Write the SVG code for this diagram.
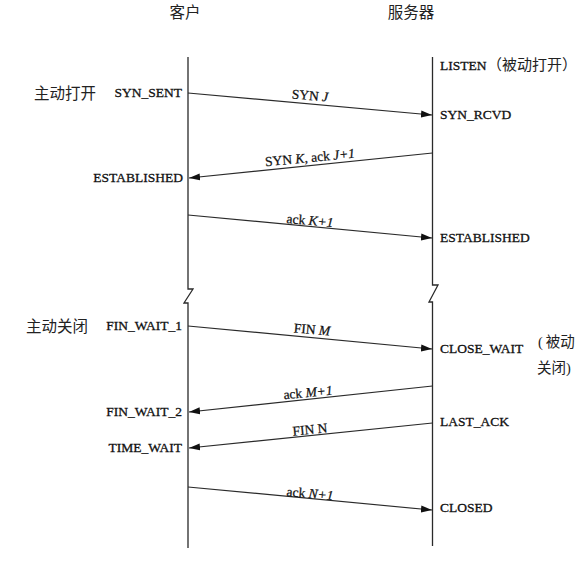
<svg xmlns="http://www.w3.org/2000/svg" width="577" height="574" viewBox="0 0 577 574">
<style>
.life{fill:none;stroke:#2a2a2a;stroke-width:1.3}
.msg{fill:none;stroke:#2a2a2a;stroke-width:1.2}
.st{font-family:"Liberation Serif",serif;font-size:13.5px;fill:#111;stroke:#111;stroke-width:0.3}
.lb{font-family:"Liberation Serif",serif;font-size:13.5px;fill:#111;stroke:#111;stroke-width:0.25;text-anchor:middle}
.cn{font-family:"Liberation Serif","Noto Sans CJK SC",serif;font-size:15.5px;fill:#222}
.r{text-anchor:end}
.i{font-style:italic}
</style>
<defs>
<marker id="ah" markerUnits="userSpaceOnUse" markerWidth="12" markerHeight="8" refX="11" refY="4" orient="auto">
<path d="M0,0.5 L11,4 L0,7.5 z" fill="#111"/>
</marker>
</defs>
<g id="titles">
<text class="cn" x="185" y="18" text-anchor="middle">客户</text>
<text class="cn" x="411" y="18" text-anchor="middle">服务器</text>
</g>
<g id="client">
<polyline class="life" points="188,57 188,289 193,289 184,303 188,303 188,548"/>
<text class="cn r" x="96" y="99">主动打开</text>
<text class="st r" x="182" y="97">SYN_SENT</text>
<text class="st r" x="183" y="182">ESTABLISHED</text>
<text class="cn r" x="88" y="332">主动关闭</text>
<text class="st r" x="182" y="330">FIN_WAIT_1</text>
<text class="st r" x="182" y="416">FIN_WAIT_2</text>
<text class="st r" x="182" y="452">TIME_WAIT</text>
</g>
<g id="server">
<polyline class="life" points="432.5,57 432.5,285 438,285 429,302 432.5,302 432.5,546"/>
<text class="st" x="440" y="70">LISTEN</text>
<text class="cn" x="487" y="70" style="font-size:15px">（被动打开）</text>
<text class="st" x="440" y="119">SYN_RCVD</text>
<text class="st" x="440" y="242">ESTABLISHED</text>
<text class="st" x="440" y="353">CLOSE_WAIT</text>
<text class="cn" x="538" y="347" style="font-size:14.5px">(<tspan dx="3">被动</tspan></text>
<text class="cn" x="537" y="373" style="font-size:14.5px">关闭)</text>
<text class="st" x="440" y="426">LAST_ACK</text>
<text class="st" x="440" y="512">CLOSED</text>
</g>
<g id="connectors">
<line class="msg" x1="188" y1="93" x2="432" y2="115" marker-end="url(#ah)"/>
<line class="msg" x1="432.5" y1="153" x2="189" y2="178" marker-end="url(#ah)"/>
<line class="msg" x1="188" y1="215" x2="432" y2="238" marker-end="url(#ah)"/>
<line class="msg" x1="188" y1="326" x2="432" y2="349" marker-end="url(#ah)"/>
<line class="msg" x1="432.5" y1="386" x2="189" y2="412" marker-end="url(#ah)"/>
<line class="msg" x1="432.5" y1="423" x2="189" y2="448" marker-end="url(#ah)"/>
<line class="msg" x1="188" y1="487" x2="432" y2="510" marker-end="url(#ah)"/>
<text class="lb" x="310" y="100" transform="rotate(5 310 96)">SYN <tspan class="i">J</tspan></text>
<text class="lb" x="310" y="162" transform="rotate(-5.5 310 158)">SYN <tspan class="i">K</tspan>, ack <tspan class="i">J+1</tspan></text>
<text class="lb" x="310" y="225" transform="rotate(5 310 221)">ack <tspan class="i">K+1</tspan></text>
<text class="lb" x="312" y="334" transform="rotate(5 312 330)">FIN <tspan class="i">M</tspan></text>
<text class="lb" x="308" y="397" transform="rotate(-5.5 308 393)">ack <tspan class="i">M+1</tspan></text>
<text class="lb" x="310" y="434" transform="rotate(-5.5 310 430)">FIN N</text>
<text class="lb" x="310" y="498" transform="rotate(5 310 494)">ack <tspan class="i">N+1</tspan></text>
</g>
</svg>
